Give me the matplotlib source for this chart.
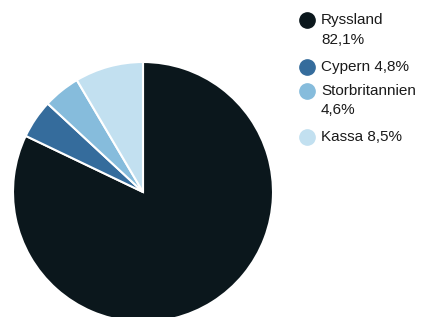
import matplotlib
matplotlib.use("Agg")
import matplotlib.pyplot as plt
from matplotlib.lines import Line2D

labels = ["Ryssland", "Cypern", "Storbritannien", "Kassa"]
values = [82.1, 4.8, 4.6, 8.5]
legend_texts = ["Ryssland\n82,1%", "Cypern 4,8%", "Storbritannien\n4,6%", "Kassa 8,5%"]
colors = ["#0b171c", "#356c9c", "#86bcdc", "#c2e0f0"]

plt.rcParams['font.family'] = ['Liberation Sans', 'DejaVu Sans']

W, H = 421, 317
fig = plt.figure(figsize=(W/100, H/100), dpi=100)
cx, cy, r = 143, 192, 130
ax = fig.add_axes([(cx - r)/W, (H - cy - r)/H, 2*r/W, 2*r/H])
ax.pie(values, colors=colors, startangle=90, counterclock=False, radius=1,
       wedgeprops=dict(edgecolor="white", linewidth=1.5))
ax.set_xlim(-1, 1)
ax.set_ylim(-1, 1)
ax.set_aspect("equal")
ax.axis("off")

# legend
rows_y = [20, 67, 91, 137]
for lab, col, y in zip(legend_texts, colors, rows_y):
    fig.add_artist(Line2D([307/W], [1 - y/H], marker="o", markersize=11,
                          color=col, markeredgecolor=col, linestyle="none",
                          transform=fig.transFigure))
    fig.text(321/W, 1 - (y - 7)/H, lab, fontsize=11, color="#1a1a1a",
             va="top", ha="left", linespacing=1.5)

fig.savefig("out.png", dpi=100)
